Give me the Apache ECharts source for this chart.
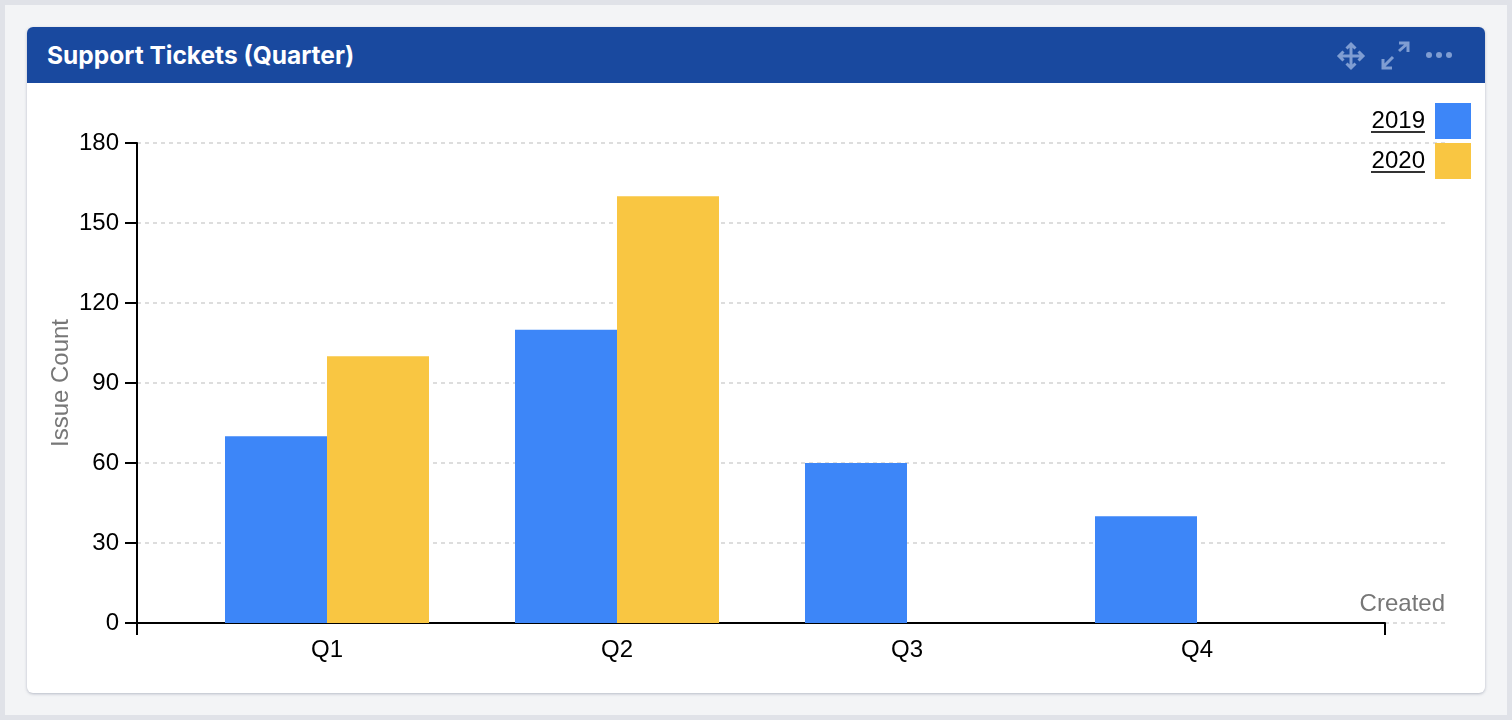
<!DOCTYPE html>
<html>
<head>
<meta charset="utf-8">
<title>Support Tickets (Quarter)</title>
<script src="https://cdn.jsdelivr.net/npm/echarts@6/dist/echarts.min.js"></script>
<style>
html, body { margin: 0; padding: 0; width: 1512px; height: 720px; overflow: hidden; background: #e0e2e8; }
#page { position: absolute; left: 5px; top: 5px; width: 1502px; height: 710px; background: #f3f4f6; }
#card { position: absolute; left: 27px; top: 27px; width: 1458px; height: 666px; background: #fff; border-radius: 6px; box-shadow: 0 1px 3px rgba(70, 80, 110, 0.35); }
#head { position: absolute; left: 0; top: 0; width: 1458px; height: 56px; background: #19499f; border-radius: 6px 6px 0 0; }
#head span { position: absolute; left: 20px; top: 12px; font: 700 24.5px/32px Inter, sans-serif; color: #fff; }
#head svg { position: absolute; left: 1300px; top: 10px; }
#main { position: absolute; left: 0; top: 0; width: 1512px; height: 720px; }
</style>
</head>
<body>
<div id="page"></div>
<div id="card">
  <div id="head">
    <span>Support Tickets (Quarter)</span>
    <svg width="140" height="36" viewBox="0 0 140 36" fill="none" stroke="#7f9dd2" stroke-width="3">
      <!-- move -->
      <path d="M24 8V30M13 19H35M19.5 11.5L24 7L28.500 11.5M19.500 26.500L24 31L28.500 26.500M16.500 14.500L12 19L16.500 23.500M31.500 14.500L36 19L31.500 23.500"/>
      <!-- expand -->
      <path d="M56 30L66 20M72 14L81 6M56 22V31H65M72 6H81V15"/>
      <circle cx="102" cy="18" r="3" fill="#7f9dd2" stroke="none"/>
      <circle cx="112" cy="18" r="3" fill="#7f9dd2" stroke="none"/>
      <circle cx="122" cy="18" r="3" fill="#7f9dd2" stroke="none"/>
    </svg>
  </div>
</div>
<div id="main"></div>
<script>
var quarters = ['Q1', 'Q2', 'Q3', 'Q4'];
var tickets2019 = [70, 110, 60, 40];
var tickets2020 = [100, 160, null, null];
var yMax = 180;
var yStep = 30;

var textFont = '"Liberation Sans", Arial, sans-serif';
var myChart = echarts.init(document.getElementById('main'));

var option = {
    animation: false,
    textStyle: { fontFamily: textFont },
    legend: {
        orient: 'vertical',
        right: 41,
        top: 103,
        padding: 0,
        align: 'right',
        icon: 'rect',
        itemWidth: 36,
        itemHeight: 36,
        itemGap: 4,
        selectedMode: false,
        textStyle: { fontFamily: textFont, fontSize: 24, color: '#000', padding: [5, 5, 0, 0] },
        data: ['2019', '2020']
    },
    // 0: gridlines, y axis; 1: axis line with end ticks; 2: the bars
    grid: [
        { left: 137, top: 143, width: 1308, height: 480 },
        { left: 137, top: 143, width: 1248, height: 480 },
        { left: 182, top: 143, width: 1160, height: 480 }
    ],
    xAxis: [
        {
            gridIndex: 0,
            type: 'value',
            min: 0,
            max: 1,
            name: 'Created',
            nameLocation: 'end',
            nameGap: 0,
            nameTextStyle: { fontSize: 24, color: '#777', align: 'right', verticalAlign: 'bottom', padding: [0, 0, 7, 0] },
            axisLine: { show: false },
            axisTick: { show: false },
            axisLabel: { show: false },
            splitLine: { show: false }
        },
        {
            gridIndex: 1,
            type: 'value',
            min: 0,
            max: 1,
            interval: 1,
            axisLine: { lineStyle: { color: '#000', width: 2 } },
            axisTick: { length: 12, lineStyle: { color: '#000', width: 2 } },
            axisLabel: { show: false },
            splitLine: { show: false }
        },
        {
            gridIndex: 2,
            type: 'category',
            data: quarters,
            axisLine: { show: false },
            axisTick: { alignWithLabel: true, length: 12, lineStyle: { color: '#000', width: 2 } },
            axisLabel: { fontSize: 24, color: '#000', margin: 15 }
        }
    ],
    yAxis: [
        {
            gridIndex: 0,
            type: 'value',
            min: 0,
            max: yMax,
            interval: yStep,
            name: 'Issue Count',
            nameLocation: 'middle',
            nameGap: 64,
            nameMoveOverlap: false,
            nameTextStyle: { fontSize: 24, color: '#777' },
            axisLine: { show: true, lineStyle: { color: '#000', width: 2 } },
            axisTick: { show: true, length: 12, lineStyle: { color: '#000', width: 2 } },
            axisLabel: { fontSize: 24, color: '#000', margin: 18, padding: [5, 0, 0, 0] },
            splitLine: { lineStyle: { color: '#ddd', width: 2, type: [4, 4] } }
        },
        { gridIndex: 1, type: 'value', min: 0, max: yMax, show: false },
        { gridIndex: 2, type: 'value', min: 0, max: yMax, show: false }
    ],
    series: [
        { name: '2019', type: 'bar', xAxisIndex: 2, yAxisIndex: 2, data: tickets2019, barWidth: 102, barGap: 0, itemStyle: { color: '#3d86f8' } },
        { name: '2020', type: 'bar', xAxisIndex: 2, yAxisIndex: 2, data: tickets2020, barWidth: 102, barGap: 0, itemStyle: { color: '#f9c642' } }
    ],
    // legend labels are underlined in the original
    graphic: [
        { type: 'rect', shape: { x: 1371, y: 131, width: 54, height: 2 }, style: { fill: '#333' } },
        { type: 'rect', shape: { x: 1371, y: 171, width: 54, height: 2 }, style: { fill: '#333' } }
    ]
};
myChart.setOption(option);
</script>
</body>
</html>
